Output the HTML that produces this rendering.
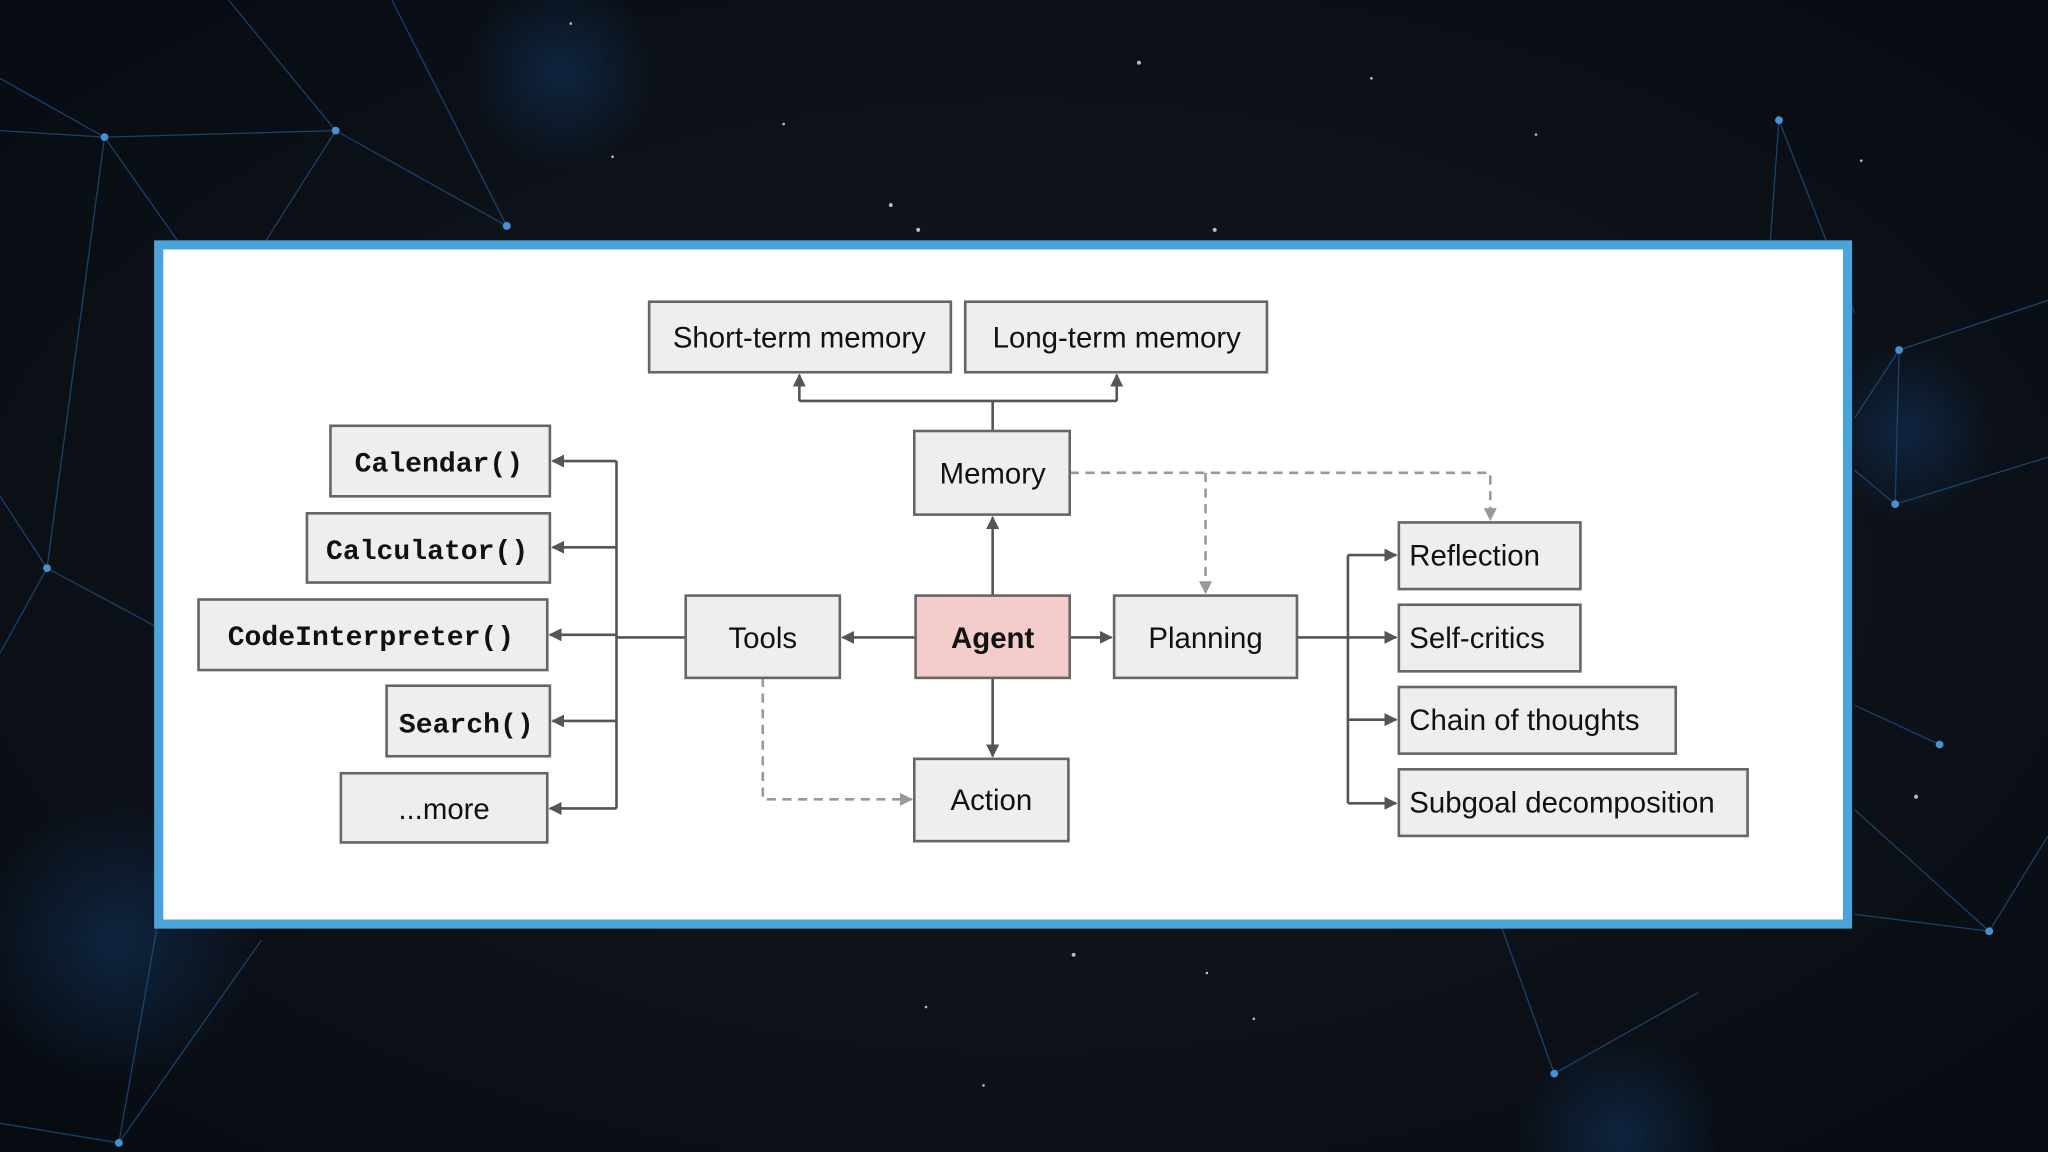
<!DOCTYPE html>
<html><head><meta charset="utf-8"><style>
html,body{margin:0;padding:0;width:2048px;height:1152px;overflow:hidden;background:#0a0e15}
svg{display:block;position:absolute;left:0;top:0}
</style></head><body>
<svg width="2048" height="1152" viewBox="0 0 1568 882" preserveAspectRatio="none" xmlns="http://www.w3.org/2000/svg">
<defs>
<radialGradient id="bg" cx="50%" cy="50%" r="70%"><stop offset="0" stop-color="#151a20"/><stop offset="1" stop-color="#070b12"/></radialGradient>
<radialGradient id="gl" cx="50%" cy="50%" r="50%"><stop offset="0" stop-color="#0f2a4a" stop-opacity=".8"/><stop offset="1" stop-color="#0f2a4a" stop-opacity="0"/></radialGradient>
<marker id="a" markerWidth="10" markerHeight="10" refX="9" refY="5" orient="auto" markerUnits="userSpaceOnUse"><path d="M0,0 L10,5 L0,10 z" fill="#555"/></marker>
<marker id="d" markerWidth="10" markerHeight="10" refX="9" refY="5" orient="auto" markerUnits="userSpaceOnUse"><path d="M0,0 L10,5 L0,10 z" fill="#999"/></marker>
</defs>
<rect width="1568" height="882" fill="url(#bg)"/>
<circle cx="430" cy="55" r="75" fill="url(#gl)"/>
<circle cx="90" cy="720" r="110" fill="url(#gl)"/>
<circle cx="1460" cy="330" r="70" fill="url(#gl)"/>
<circle cx="1240" cy="870" r="80" fill="url(#gl)"/>
<g stroke="#1d4f80" stroke-width="1" opacity=".8" fill="none">
<path d="M0,100 L80,105 L257,100 L388,173 M80,105 L36,435 L0,380 M80,105 L0,60 M257,100 L175,0 M257,100 L200,190 M36,435 L120,480 M36,435 L0,500 M388,173 L300,0 M80,105 L140,190"/>
<path d="M1362,92 L1355,190 M1362,92 L1420,240 M1454,268 L1568,230 M1454,268 L1420,320 M1451,386 L1568,350 M1451,386 L1420,360 M1454,268 L1451,386 M1523,713 L1420,620 M1523,713 L1568,640 M1485,570 L1420,540 M1420,700 L1523,713"/>
<path d="M0,860 L91,875 L200,720 M91,875 L120,711 M1190,822 L1150,711 M1190,822 L1300,760"/>
</g>
<g fill="#4a8fcf">
<circle cx="80" cy="105" r="3"/><circle cx="257" cy="100" r="3"/><circle cx="388" cy="173" r="3"/><circle cx="36" cy="435" r="3"/><circle cx="1362" cy="92" r="3"/><circle cx="1454" cy="268" r="3"/><circle cx="1451" cy="386" r="3"/><circle cx="1485" cy="570" r="3"/><circle cx="1523" cy="713" r="3"/><circle cx="1190" cy="822" r="3"/><circle cx="91" cy="875" r="3"/>
</g>
<g fill="#bbb"><circle cx="872" cy="48" r="1.5"/><circle cx="682" cy="157" r="1.5"/><circle cx="703" cy="176" r="1.5"/><circle cx="930" cy="176" r="1.5"/><circle cx="822" cy="731" r="1.5"/><circle cx="1467" cy="610" r="1.5"/><circle cx="600" cy="95" r="1"/><circle cx="1050" cy="60" r="1"/><circle cx="960" cy="780" r="1"/><circle cx="437" cy="18" r="1"/><circle cx="469" cy="120" r="1"/><circle cx="1176" cy="103" r="1"/><circle cx="1425" cy="123" r="1"/><circle cx="709" cy="771" r="1"/><circle cx="753" cy="831" r="1"/><circle cx="924" cy="745" r="1"/></g>

<rect x="121.5" y="187.5" width="1293" height="520" fill="#fff" stroke="#4aa3d9" stroke-width="7"/>

<g stroke="#555" stroke-width="2" fill="none">
<path d="M760,330 V307 M612,307 H855 M612,307 V287" marker-end="url(#a)"/>
<path d="M855,307 V287" marker-end="url(#a)"/>
<path d="M760,456 V396" marker-end="url(#a)"/>
<path d="M701,488 H645" marker-end="url(#a)"/>
<path d="M819,488 H851" marker-end="url(#a)"/>
<path d="M760,519 V579" marker-end="url(#a)"/>
<path d="M525,488 H472 M472,353 V619"/>
<path d="M472,353 H423" marker-end="url(#a)"/>
<path d="M472,419 H423" marker-end="url(#a)"/>
<path d="M472,486 H421" marker-end="url(#a)"/>
<path d="M472,552 H423" marker-end="url(#a)"/>
<path d="M472,619 H421" marker-end="url(#a)"/>
<path d="M993,488 H1032 M1032,425 V615"/>
<path d="M1032,425 H1069" marker-end="url(#a)"/>
<path d="M1032,488 H1069" marker-end="url(#a)"/>
<path d="M1032,551 H1069" marker-end="url(#a)"/>
<path d="M1032,615 H1069" marker-end="url(#a)"/>
</g>
<g stroke="#999" stroke-width="2" fill="none" stroke-dasharray="7,5">
<path d="M819,362 H1141 V398" marker-end="url(#d)"/>
<path d="M923,362 V454" marker-end="url(#d)"/>
<path d="M584,519 V612 H698" marker-end="url(#d)"/>
</g>

<g stroke="#666" stroke-width="2" fill="#eee">
<rect x="497" y="231" width="231" height="54"/>
<rect x="739" y="231" width="231" height="54"/>
<rect x="700" y="330" width="119" height="64"/>
<rect x="701" y="456" width="118" height="63" fill="#f4cccc"/>
<rect x="525" y="456" width="118" height="63"/>
<rect x="853" y="456" width="140" height="63"/>
<rect x="700" y="581" width="118" height="63"/>
<rect x="253" y="326" width="168" height="54"/>
<rect x="235" y="393" width="186" height="53"/>
<rect x="152" y="459" width="267" height="54"/>
<rect x="296" y="525" width="125" height="54"/>
<rect x="261" y="592" width="158" height="53"/>
<rect x="1071" y="400" width="139" height="51"/>
<rect x="1071" y="463" width="139" height="51"/>
<rect x="1071" y="526" width="212" height="51"/>
<rect x="1071" y="589" width="267" height="51"/>
</g>
<g font-family="Liberation Sans, sans-serif" font-size="22.5" fill="#111" text-anchor="middle">
<text x="612" y="266">Short-term memory</text>
<text x="855" y="266">Long-term memory</text>
<text x="760" y="370">Memory</text>
<text x="760" y="496" font-weight="bold">Agent</text>
<text x="584" y="496">Tools</text>
<text x="923" y="496">Planning</text>
<text x="759" y="620">Action</text>
<text x="340" y="627">...more</text>
</g>
<g font-family="Liberation Mono, monospace" font-size="21.5" font-weight="bold" fill="#111" text-anchor="middle">
<text x="336" y="361">Calendar()</text>
<text x="327" y="428">Calculator()</text>
<text x="284" y="494">CodeInterpreter()</text>
<text x="357" y="561">Search()</text>
</g>
<g font-family="Liberation Sans, sans-serif" font-size="22.5" fill="#111">
<text x="1079" y="433">Reflection</text>
<text x="1079" y="496">Self-critics</text>
<text x="1079" y="559">Chain of thoughts</text>
<text x="1079" y="622">Subgoal decomposition</text>
</g>
</svg>
</body></html>
